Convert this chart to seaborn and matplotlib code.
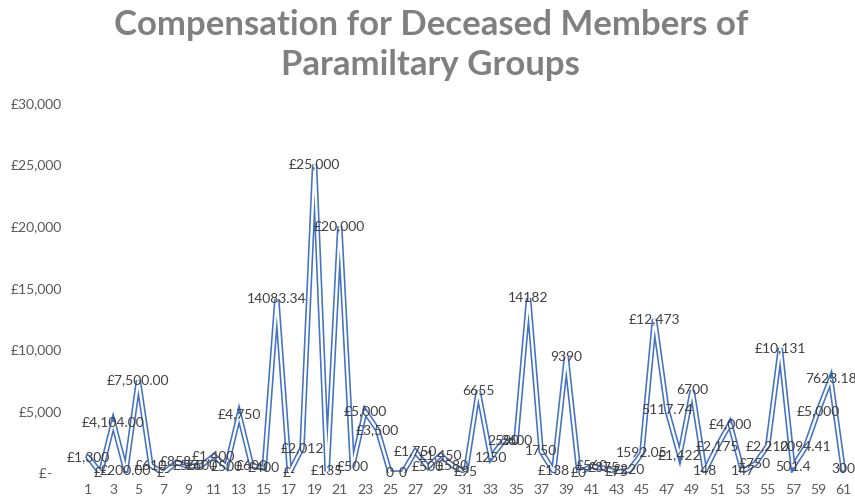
import numpy as np
import pandas as pd
import seaborn as sns
import matplotlib.pyplot as plt

# ----------------------------- DATA -----------------------------
case_no = list(range(1, 62))
compensation = [
    1300, 0, 4104, 200, 7500, 610, 0, 858, 560, 600,
    1400, 500, 4750, 600, 400, 14083.34, 0, 2012, 25000, 135,
    20000, 500, 5000, 3500, 0, 0, 1750, 500, 1450, 580,
    95, 6655, 1250, 2590, 2600, 14182, 1750, 138, 9390, 0,
    560, 375, 75, 220, 1592.05, 12473, 5117.74, 1422, 6700, 148,
    2175, 4000, 147, 750, 2210, 10131, 501.4, 2094.41, 5000, 7623.18,
    300,
]
# labels as they appear on the chart (mixed number formats)
point_labels = [
    "£1,300", "£-", "£4,104.00", "£200.00", "£7,500.00", "£610", "£-", "£858", "£560", "£600",
    "£1,400", "£500", "£4,750", "£600", "£400", "14083.34", "£-", "£2,012", "£25,000", "£135",
    "£20,000", "£500", "£5,000", "£3,500", "0", "0", "£1,750", "£500", "£1,450", "£580",
    "£95", "6655", "1250", "2590", "2600", "14182", "1750", "£138", "9390", "£0",
    "£560", "£375", "£75", "£220", "1592.05", "£12,473", "5117.74", "£1,422", "6700", "148",
    "£2,175", "£4,000", "147", "£750", "£2,210", "£10,131", "501.4", "2094.41", "£5,000", "7623.18",
    "300",
]
y_ticks = [0, 5000, 10000, 15000, 20000, 25000, 30000]
y_ticklabels = ["£-   ", "£5,000", "£10,000", "£15,000", "£20,000", "£25,000", "£30,000"]

df = pd.DataFrame({"case": case_no, "amount": compensation})

# ----------------------------- STYLE -----------------------------
sns.set_style("white")
plt.rcParams['font.family'] = ['Lato', 'DejaVu Sans']

fig = plt.figure(figsize=(8.55, 4.99), dpi=100)
ax = fig.add_axes([0.0956, 0.052, 0.898, 0.742])

# double line: blue outline with white core
sns.lineplot(data=df, x="case", y="amount", ax=ax, sort=False, color="#4472C4",
             linewidth=4.0, solid_joinstyle="miter")
sns.lineplot(data=df, x="case", y="amount", ax=ax, sort=False, color="white",
             linewidth=1.7, solid_joinstyle="miter")

# data labels centred on points
for x, y, lab in zip(df["case"], df["amount"], point_labels):
    ax.text(x, y, lab, ha="center", va="center", fontsize=10, color="#404040")

# ----------------------------- AXES -----------------------------
ax.set_xlim(0.5, 61.5)
ax.set_ylim(0, 30000)
ax.set_xticks(case_no[::2])
ax.set_xticklabels([str(c) for c in case_no[::2]])
ax.set_yticks(y_ticks)
ax.set_yticklabels(y_ticklabels)
ax.tick_params(axis="x", length=0, pad=8, labelsize=10, labelcolor="#595959")
ax.tick_params(axis="y", length=0, pad=14, labelsize=10, labelcolor="#595959")
ax.set_xlabel("")
ax.set_ylabel("")
sns.despine(ax=ax, left=True, bottom=True)

fig.suptitle("Compensation for Deceased Members of\nParamiltary Groups",
             x=0.504, y=0.982, fontsize=25, fontweight="bold", color="#808080",
             linespacing=1.3)

fig.savefig("out.png", dpi=100)
plt.close()
